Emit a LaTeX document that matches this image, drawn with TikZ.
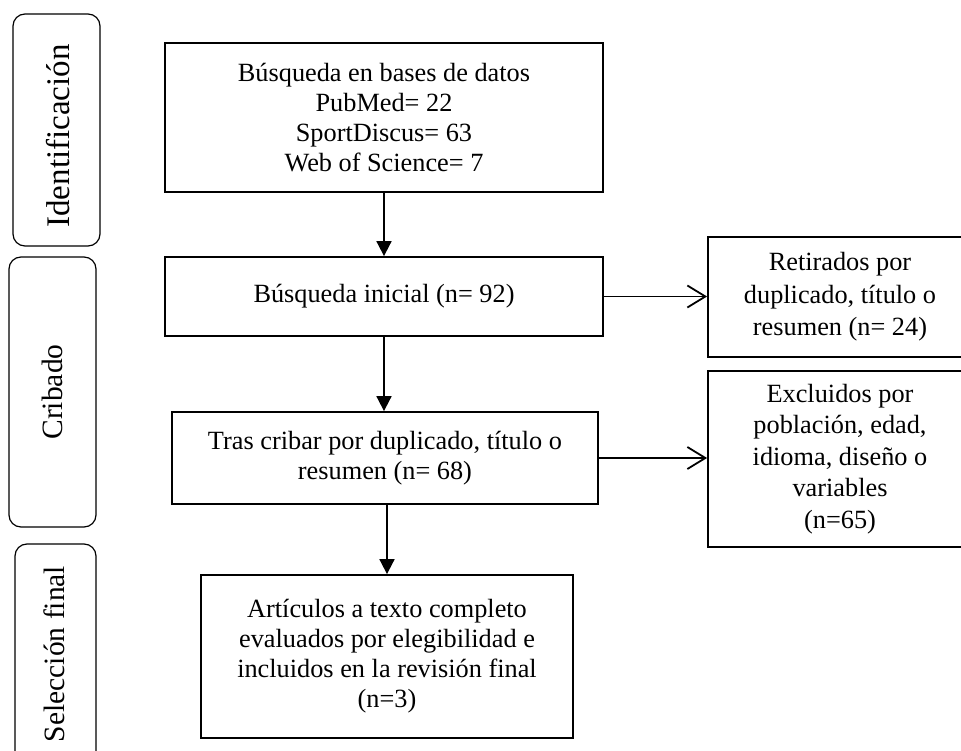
\documentclass[tikz,border=0pt]{standalone}
\usepackage{fontspec}
\setmainfont{Liberation Serif}
\usetikzlibrary{arrows.meta}
\begin{document}
\begin{tikzpicture}[x=1pt,y=-1pt,
  box/.style={draw,line width=1.8pt,align=center,inner sep=0pt,font=\fontsize{26.3}{30}\selectfont},
  sidebox/.style={draw,line width=1.2pt,rounded corners=12pt,inner sep=0pt},
  sidelabel/.style={rotate=90,inner sep=0pt,font=\fontsize{29.5}{34}\selectfont},
  downarrow/.style={line width=1.8pt,-{Triangle[length=15pt,width=15pt]}},
  sidearrow/.style={line width=1.8pt,-{Straight Barb[length=18pt,width=22pt,line width=1.8pt]}}]
\useasboundingbox (0,0) rectangle (961,751);
\fill[white] (0,0) rectangle (961,751);
% side phase boxes
\node[sidebox,minimum width=87pt,minimum height=232pt] (idbox) at (56.5,130) {};
\node[sidelabel,font=\fontsize{33}{38}\selectfont] (idtxt) at (58,136) {Identificación};
\node[sidebox,minimum width=87pt,minimum height=270pt] (cribox) at (52.5,392) {};
\node[sidelabel] (critxt) at (52,392) {Cribado};
\node[sidebox,minimum width=81pt,minimum height=226pt] (selbox) at (55.5,657) {};
\node[sidelabel] (seltxt) at (54,654) {Selección final};
% main boxes
\node[box,minimum width=438pt,minimum height=149pt] (b1) at (384,117.5)
  {Búsqueda en bases de datos\\PubMed= 22\\SportDiscus= 63\\Web of Science= 7};
\node[box,minimum width=438pt,minimum height=79pt] (b2) at (384,296.5)
  {Búsqueda inicial (n= 92)};
\node[box,minimum width=426pt,minimum height=92pt] (b3) at (385,458)
  {Tras cribar por duplicado, título o\\resumen (n= 68)};
\node[box,minimum width=372pt,minimum height=163pt] (b4) at (387,656.5)
  {Artículos a texto completo\\evaluados por elegibilidad e\\incluidos en la revisión final\\(n=3)};
\node[box,minimum width=264pt,minimum height=120pt,font=\fontsize{26.3}{32.5}\selectfont] (r1) at (840,297)
  {Retirados por\\duplicado, título o\\resumen (n= 24)};
\node[box,minimum width=264pt,minimum height=176pt,font=\fontsize{26.3}{31.5}\selectfont] (r2) at (840,459)
  {Excluidos por\\población, edad,\\idioma, diseño o\\variables\\(n=65)};
% connectors
\draw[downarrow] (b1.south) -- (b1.south |- b2.north);
\draw[downarrow] (b2.south) -- (b2.south |- b3.north);
\draw[downarrow] (b3.south -| b4.north) -- (b4.north);
\draw[sidearrow] (b2.east) -- (b2.east -| r1.west);
\draw[sidearrow] (b3.east) -- (b3.east -| r2.west);
\end{tikzpicture}
\end{document}
